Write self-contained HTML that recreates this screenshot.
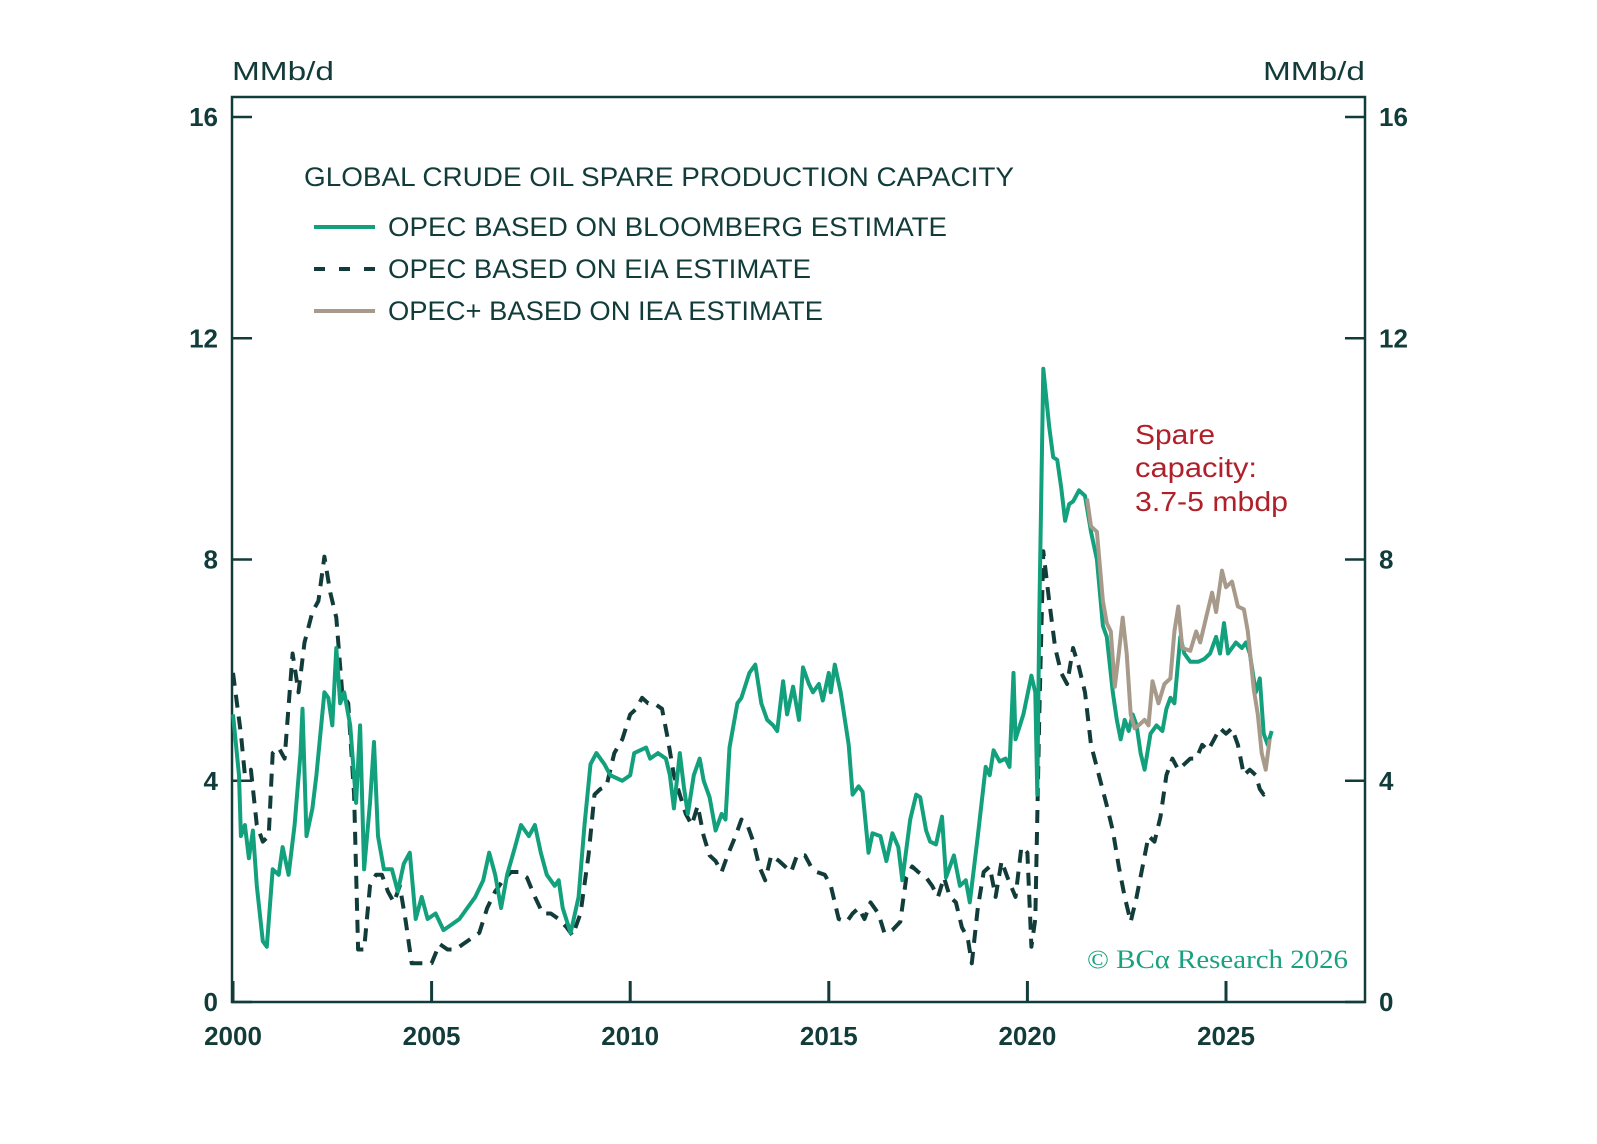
<!DOCTYPE html>
<html><head><meta charset="utf-8">
<style>
html,body{margin:0;padding:0;background:#fff;}
svg{display:block;font-family:"Liberation Sans",sans-serif;}
</style></head>
<body>
<svg id="chart" width="1597" height="1144" viewBox="0 0 1597 1144" xmlns="http://www.w3.org/2000/svg">
<rect width="1597" height="1144" fill="#fff"/>
<g id="axes"></g>
<g id="series"></g>
<g id="labels"></g>
</svg>
<script>
const yTicks=[0,4,8,12,16];
const xTicks=[2000,2005,2010,2015,2020,2025];
const bloombergYears=[2000,2000.15,2000.2,2000.3,2000.4,2000.5,2000.6,2000.75,2000.85,2001,2001.15,2001.25,2001.4,2001.55,2001.7,2001.75,2001.85,2002,2002.1,2002.3,2002.4,2002.5,2002.6,2002.7,2002.8,2002.95,2003.1,2003.2,2003.3,2003.45,2003.55,2003.65,2003.8,2004,2004.15,2004.3,2004.45,2004.6,2004.75,2004.9,2005.1,2005.3,2005.5,2005.7,2005.9,2006.1,2006.3,2006.45,2006.6,2006.75,2006.9,2007.1,2007.25,2007.45,2007.6,2007.75,2007.9,2008.1,2008.2,2008.3,2008.5,2008.7,2008.85,2009,2009.15,2009.35,2009.5,2009.8,2010,2010.1,2010.4,2010.5,2010.7,2010.9,2011,2011.1,2011.25,2011.35,2011.45,2011.6,2011.75,2011.85,2012,2012.15,2012.3,2012.4,2012.5,2012.7,2012.8,2013,2013.15,2013.3,2013.45,2013.6,2013.7,2013.85,2013.95,2014.1,2014.25,2014.35,2014.5,2014.6,2014.75,2014.85,2015,2015.05,2015.15,2015.3,2015.5,2015.6,2015.75,2015.85,2016,2016.1,2016.3,2016.45,2016.6,2016.75,2016.85,2017.05,2017.2,2017.3,2017.45,2017.55,2017.7,2017.85,2017.95,2018.15,2018.3,2018.45,2018.55,2018.75,2018.95,2019.05,2019.15,2019.3,2019.45,2019.55,2019.65,2019.7,2019.9,2020.1,2020.2,2020.25,2020.3,2020.4,2020.55,2020.65,2020.75,2020.85,2020.95,2021.05,2021.15,2021.3,2021.45,2021.6,2021.75,2021.9,2022,2022.15,2022.25,2022.35,2022.45,2022.55,2022.65,2022.75,2022.85,2022.95,2023.1,2023.25,2023.4,2023.5,2023.6,2023.7,2023.85,2023.95,2024.1,2024.3,2024.45,2024.6,2024.75,2024.85,2024.95,2025.05,2025.25,2025.4,2025.5,2025.6,2025.75,2025.85,2025.95,2026.05,2026.15];
const bloombergValues=[5.2,4.1,3.0,3.2,2.6,3.1,2.1,1.1,1.0,2.4,2.3,2.8,2.3,3.2,4.5,5.3,3.0,3.5,4.1,5.6,5.5,5.0,6.4,5.4,5.6,5.0,3.6,5.0,2.4,3.6,4.7,3.0,2.4,2.4,2.0,2.5,2.7,1.5,1.9,1.5,1.6,1.3,1.4,1.5,1.7,1.9,2.2,2.7,2.3,1.7,2.3,2.8,3.2,3.0,3.2,2.7,2.3,2.1,2.2,1.7,1.25,1.9,3.2,4.3,4.5,4.3,4.1,4.0,4.1,4.5,4.6,4.4,4.5,4.4,4.1,3.5,4.5,3.9,3.4,4.1,4.4,4.0,3.7,3.1,3.4,3.3,4.6,5.4,5.5,5.95,6.1,5.4,5.1,5.0,4.9,5.8,5.2,5.7,5.1,6.05,5.75,5.6,5.75,5.45,5.95,5.6,6.1,5.6,4.65,3.75,3.9,3.8,2.7,3.05,3.0,2.55,3.05,2.8,2.2,3.3,3.75,3.7,3.1,2.9,2.85,3.35,2.25,2.65,2.1,2.2,1.8,3.0,4.25,4.1,4.55,4.35,4.4,4.25,5.95,4.75,5.2,5.9,5.6,3.75,7.0,11.45,10.4,9.85,9.8,9.3,8.7,9.0,9.05,9.25,9.15,8.5,8.0,6.8,6.6,5.6,5.1,4.75,5.1,4.9,5.2,5.0,4.5,4.2,4.85,5.0,4.9,5.3,5.5,5.4,6.6,6.3,6.15,6.15,6.2,6.3,6.6,6.3,6.85,6.3,6.5,6.4,6.5,6.3,5.6,5.85,4.85,4.65,4.9];
const eiaYears=[2000,2000.2,2000.3,2000.45,2000.6,2000.75,2000.9,2001,2001.15,2001.3,2001.5,2001.65,2001.8,2002,2002.15,2002.3,2002.45,2002.6,2002.75,2002.9,2003.05,2003.15,2003.3,2003.45,2003.6,2003.75,2003.9,2004.05,2004.2,2004.35,2004.5,2004.75,2005,2005.2,2005.4,2005.6,2005.8,2006,2006.2,2006.4,2006.6,2006.8,2007,2007.2,2007.4,2007.6,2007.8,2008,2008.2,2008.4,2008.55,2008.75,2008.95,2009.1,2009.25,2009.4,2009.6,2009.8,2010,2010.15,2010.3,2010.45,2010.6,2010.8,2010.95,2011.1,2011.25,2011.4,2011.55,2011.7,2011.85,2012,2012.15,2012.3,2012.45,2012.65,2012.8,2012.95,2013.1,2013.25,2013.4,2013.55,2013.75,2013.9,2014.05,2014.2,2014.4,2014.55,2014.7,2014.9,2015.05,2015.25,2015.45,2015.6,2015.75,2015.9,2016.05,2016.25,2016.4,2016.6,2016.8,2016.95,2017.1,2017.25,2017.45,2017.6,2017.75,2017.9,2018.05,2018.2,2018.35,2018.5,2018.6,2018.75,2018.9,2019.05,2019.2,2019.35,2019.5,2019.7,2019.85,2020,2020.1,2020.2,2020.3,2020.4,2020.55,2020.7,2020.85,2021,2021.15,2021.3,2021.45,2021.6,2021.8,2022,2022.15,2022.3,2022.45,2022.6,2022.75,2022.9,2023.05,2023.2,2023.35,2023.5,2023.65,2023.8,2023.95,2024.1,2024.25,2024.4,2024.55,2024.7,2024.85,2025,2025.15,2025.3,2025.45,2025.6,2025.75,2025.85,2025.95,2026.05];
const eiaValues=[5.95,4.85,4.1,4.2,3.2,2.9,3.0,4.5,4.6,4.4,6.3,5.6,6.5,7.05,7.25,8.05,7.4,6.95,5.6,5.4,3.75,0.95,0.95,2.1,2.3,2.3,2.0,1.8,2.1,1.45,0.7,0.7,0.7,1.05,0.95,0.95,1.05,1.15,1.25,1.7,2.0,2.2,2.35,2.35,2.25,1.9,1.6,1.6,1.5,1.35,1.2,1.6,2.65,3.75,3.85,3.9,4.5,4.75,5.2,5.3,5.5,5.4,5.4,5.3,4.75,4.1,3.75,3.4,3.2,3.55,3.0,2.65,2.55,2.35,2.65,3.0,3.3,3.2,2.9,2.45,2.2,2.65,2.55,2.45,2.35,2.65,2.65,2.45,2.35,2.3,2.1,1.5,1.45,1.6,1.7,1.5,1.8,1.6,1.25,1.3,1.45,2.25,2.45,2.35,2.25,2.1,1.9,2.25,1.9,1.8,1.35,1.15,0.7,1.7,2.35,2.45,1.9,2.55,2.25,1.9,2.8,2.7,1.0,1.5,5.2,8.15,7.25,6.4,5.95,5.75,6.4,6.05,5.6,4.65,4.1,3.55,3.1,2.45,1.9,1.45,1.9,2.45,3.0,2.9,3.35,4.1,4.4,4.2,4.3,4.4,4.4,4.65,4.55,4.75,4.95,4.85,4.95,4.65,4.1,4.2,4.1,3.85,3.75,3.85];
const ieaYears=[2021.5,2021.6,2021.75,2021.9,2022,2022.1,2022.2,2022.3,2022.4,2022.5,2022.6,2022.7,2022.8,2022.95,2023.05,2023.15,2023.3,2023.45,2023.6,2023.7,2023.8,2023.9,2024.1,2024.25,2024.35,2024.5,2024.65,2024.75,2024.9,2025,2025.15,2025.3,2025.45,2025.55,2025.7,2025.8,2025.9,2026,2026.1];
const ieaValues=[9.1,8.6,8.5,7.25,6.85,6.7,5.7,6.3,6.95,6.3,5.2,4.95,5.0,5.1,5.0,5.8,5.4,5.75,5.85,6.7,7.15,6.4,6.35,6.7,6.5,6.95,7.4,7.05,7.8,7.5,7.6,7.15,7.1,6.7,5.65,5.2,4.5,4.2,4.75];

const NS="http://www.w3.org/2000/svg";
const L=232,R=1365,T=97,B=1002;
const X0=233, PXY=39.72;
function xs(yr){return X0+(yr-2000)*PXY;}
function ys(v){return B-v*(B-117)/16;}
function mk(tag,attrs,parent,text){const e=document.createElementNS(NS,tag);for(const k in attrs)e.setAttribute(k,attrs[k]);if(text!==undefined)e.textContent=text;parent.appendChild(e);return e;}
const axes=document.getElementById('axes'),series=document.getElementById('series'),labels=document.getElementById('labels');
const INK="#123c3a";

const frame=mk('rect',{x:L,y:T,width:R-L,height:B-T,fill:'none',stroke:INK,'stroke-width':2.5},axes);



yTicks.forEach(v=>{
  const y=ys(v);
  const t1=mk('line',{x1:L,x2:L+20,y1:y,y2:y,stroke:INK,'stroke-width':2.5},axes);
  
  
  const t2=mk('line',{x1:R-20,x2:R,y1:y,y2:y,stroke:INK,'stroke-width':2.5},axes);
  
  
  const l1=mk('text',{x:L-14,y:y+9,'text-anchor':'end','font-size':26,'font-weight':'bold',fill:INK},labels,String(v));
  
  
  const l2=mk('text',{x:R+14,y:y+9,'text-anchor':'start','font-size':26,'font-weight':'bold',fill:INK},labels,String(v));
  
  
});
xTicks.forEach(yr=>{
  const x=xs(yr);
  const t=mk('line',{x1:x,x2:x,y1:B,y2:B-21,stroke:INK,'stroke-width':3},axes);
  
  
  const l=mk('text',{x:x,y:1045,'text-anchor':'middle','font-size':26,'font-weight':'bold',fill:INK},labels,String(yr));
  
  
});

function path(xsArr,vs){return xsArr.map((yr,i)=>(i?'L':'M')+xs(yr).toFixed(1)+','+ys(vs[i]).toFixed(1)).join(' ');}
const pE=mk('path',{d:path(eiaYears,eiaValues),fill:'none',stroke:INK,'stroke-width':4,'stroke-dasharray':'13 9','stroke-linejoin':'round'},series);


const pB=mk('path',{d:path(bloombergYears,bloombergValues),fill:'none',stroke:'#13a07c','stroke-width':4,'stroke-linejoin':'round'},series);


const pI=mk('path',{d:path(ieaYears,ieaValues),fill:'none',stroke:'#a89a8b','stroke-width':4,'stroke-linejoin':'round'},series);


</script>
<svg style="position:absolute;left:0;top:0" width="1597" height="1144">
<text x="232" y="80" font-size="26" textLength="102" lengthAdjust="spacingAndGlyphs" fill="#123c3a" font-family="Liberation Sans, sans-serif">MMb/d</text>
<text x="1263" y="80" font-size="26" textLength="102" lengthAdjust="spacingAndGlyphs" fill="#123c3a" font-family="Liberation Sans, sans-serif">MMb/d</text>
<text x="304" y="186" font-size="27" textLength="710" lengthAdjust="spacingAndGlyphs" fill="#123c3a" font-family="Liberation Sans, sans-serif">GLOBAL CRUDE OIL SPARE PRODUCTION CAPACITY</text>
<line x1="314" x2="375" y1="227" y2="227" stroke="#13a07c" stroke-width="4"/>
<text x="388" y="236" font-size="27" textLength="559" lengthAdjust="spacingAndGlyphs" fill="#123c3a" font-family="Liberation Sans, sans-serif">OPEC BASED ON BLOOMBERG ESTIMATE</text>
<line x1="314" x2="375" y1="269" y2="269" stroke="#123c3a" stroke-width="4" stroke-dasharray="11 14"/>
<text x="388" y="278" font-size="27" textLength="423" lengthAdjust="spacingAndGlyphs" fill="#123c3a" font-family="Liberation Sans, sans-serif">OPEC BASED ON EIA ESTIMATE</text>
<line x1="314" x2="375" y1="311" y2="311" stroke="#a89a8b" stroke-width="4"/>
<text x="388" y="320" font-size="27" textLength="435" lengthAdjust="spacingAndGlyphs" fill="#123c3a" font-family="Liberation Sans, sans-serif">OPEC+ BASED ON IEA ESTIMATE</text>
<g font-size="28" fill="#b0202a" font-family="Liberation Sans, sans-serif">
<text x="1135" y="444" textLength="80" lengthAdjust="spacingAndGlyphs">Spare</text>
<text x="1135" y="477" textLength="122" lengthAdjust="spacingAndGlyphs">capacity:</text>
<text x="1135" y="511" textLength="153" lengthAdjust="spacingAndGlyphs">3.7-5 mbdp</text>
</g>
<text x="1087" y="968" font-size="26" textLength="261" lengthAdjust="spacingAndGlyphs" fill="#1aa27e" font-family="Liberation Serif, serif">© BCα Research 2026</text>
</svg>
</body></html>
